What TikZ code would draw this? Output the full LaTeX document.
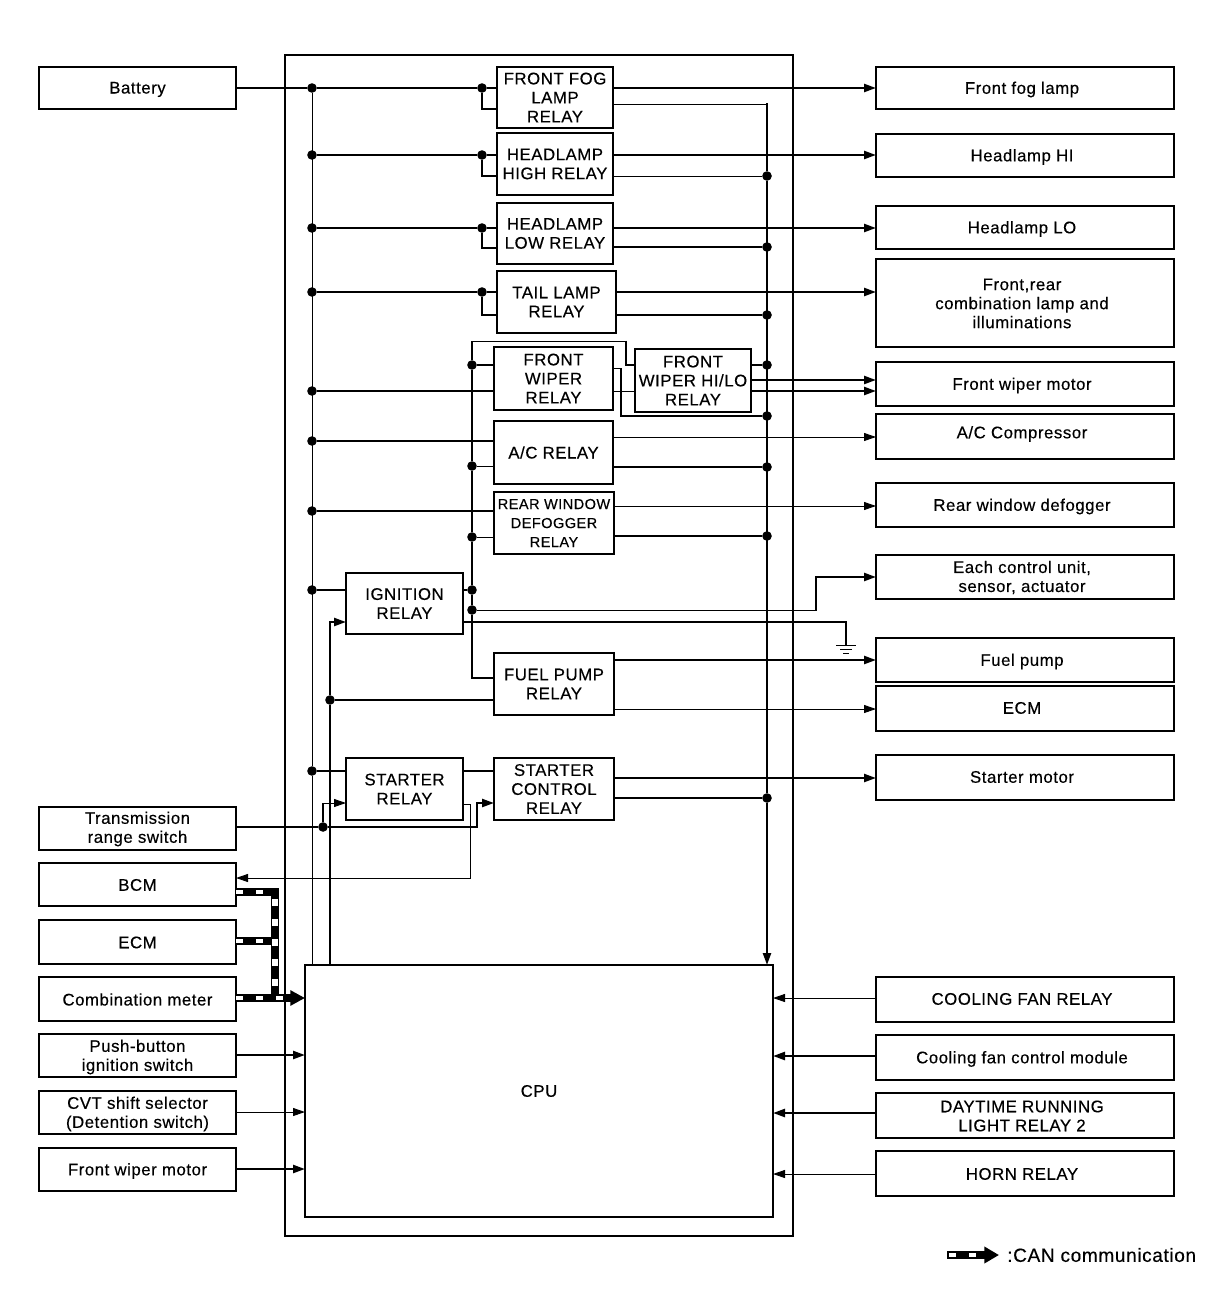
\documentclass[tikz,border=0pt]{standalone}
\usepackage{fontspec}
\setmainfont[LetterSpace=3.2,FakeBold=0.35]{Liberation Sans}
\usetikzlibrary{arrows.meta}
\newcommand{\bx}[7][boxthin]{\node[#1,minimum width={(#5-#3)*0.75pt},minimum height={(#6-#4)*0.75pt}] (#2) at ({(#3+#5)/2},{(#4+#6)/2}) {#7};}
% side boxes: the text sits slightly off the centre of the box
\newcommand{\sbx}[7][lside]{\node[boxthin,minimum width={(#5-#3)*0.75pt},minimum height={(#6-#4)*0.75pt},label={[boxtext,#1]center:{#7}}] (#2) at ({(#3+#5)/2},{(#4+#6)/2}) {};}
\newcommand{\jn}[3]{\node[jdot] (#1) at (#2,#3) {};}
\tikzset{
  x=0.75pt,y=-0.75pt,
  boxtext/.style={inner sep=0pt,outer sep=0pt,align=center,font=\fontsize{12.6pt}{14.25pt}\selectfont},
  lside/.style={yshift=-1.1pt},
  rside/.style={xshift=-2.25pt,yshift=-1.1pt},
  boxthin/.style={boxtext,draw=black,line width=1pt},
  boxthick/.style={boxthin,line width=1.8pt},
  jdot/.style={circle,fill=black,draw=none,minimum size=7.2pt,inner sep=0pt,outer sep=0pt},
  wthin/.style={line width=0.7pt,draw=black},
  wmid/.style={line width=1.1pt,draw=black},
  wthick/.style={line width=1.8pt,draw=black},
  tip/.style={-{Triangle[length=9pt,width=6pt,fill=black]}},
  canbase/.style={line width=6.6pt,draw=black},
  candash/.style={line width=3pt,draw=white,dash pattern=on 5.25pt off 9.75pt},
}
\begin{document}
\begin{tikzpicture}
\useasboundingbox (0,0) rectangle (1216,1298);
% frame and relays
\bx[boxthick]{outer}{285}{55}{793}{1236}{}
\sbx{battery}{39}{67}{236}{109}{Battery}
\bx{fog}{497}{67}{613}{128}{FRONT FOG\\LAMP\\RELAY}
\bx{high}{497}{133}{613}{195}{HEADLAMP\\HIGH RELAY}
\bx{low}{497}{203}{613}{264}{HEADLAMP\\LOW RELAY}
\bx[boxthick]{tail}{497}{271}{616}{333}{TAIL LAMP\\RELAY}
\bx[boxthick]{wiper}{494}{347}{613}{410}{FRONT\\WIPER\\RELAY}
\bx[boxthick]{hilo}{635}{349}{751}{412}{FRONT\\WIPER HI/LO\\RELAY}
\bx[boxthick]{ac}{494}{421}{613}{484}{A/C RELAY}
\bx[boxthick,font=\fontsize{10.9pt}{14.25pt}\selectfont]{rear}{494}{492}{614}{554}{REAR WINDOW\\DEFOGGER\\RELAY}
\bx{ign}{346}{573}{463}{634}{IGNITION\\RELAY}
\bx[boxthick]{fuel}{494}{653}{614}{715}{FUEL PUMP\\RELAY}
\bx[boxthick]{starter}{346}{758}{463}{820}{STARTER\\RELAY}
\bx[boxthick]{sctrl}{494}{758}{614}{820}{STARTER\\CONTROL\\RELAY}
\bx[boxthick]{cpu}{305}{965}{773}{1217}{CPU}
% right column
\sbx[rside]{rfog}{876}{67}{1174}{109}{Front fog lamp}
\sbx[rside]{rhi}{876}{134}{1174}{177}{Headlamp HI}
\sbx[rside]{rlo}{876}{206}{1174}{249}{Headlamp LO}
\sbx[rside,yshift=0.75pt]{rcomb}{876}{259}{1174}{347}{Front,rear\\combination lamp and\\illuminations}
\sbx[rside]{rwiper}{876}{362}{1174}{406}{Front wiper motor}
\sbx[rside,yshift=3pt]{racc}{876}{414}{1174}{459}{A/C Compressor}
\sbx[rside]{rrear}{876}{483}{1174}{527}{Rear window defogger}
\sbx[rside,yshift=0.75pt]{reach}{876}{555}{1174}{599}{Each control unit,\\sensor, actuator}
\sbx[rside]{rfuel}{876}{638}{1174}{682}{Fuel pump}
\sbx[rside,yshift=1.5pt]{recm}{876}{686}{1174}{731}{ECM}
\sbx[rside,yshift=1.5pt]{rstart}{876}{755}{1174}{800}{Starter motor}
\sbx[rside,yshift=1.5pt]{rfan}{876}{977}{1174}{1022}{COOLING FAN RELAY}
\sbx[rside]{rfanc}{876}{1035}{1174}{1080}{Cooling fan control module}
\sbx[rside,yshift=0.75pt]{rday}{876}{1093}{1174}{1138}{DAYTIME RUNNING\\LIGHT RELAY 2}
\sbx[rside,yshift=0.75pt]{rhorn}{876}{1151}{1174}{1196}{HORN RELAY}
% left column
\sbx[lside,yshift=0.75pt]{ltrans}{39}{807}{236}{850}{Transmission\\range switch}
\sbx[lside,yshift=0.75pt]{lbcm}{39}{863}{236}{906}{BCM}
\sbx[lside,yshift=0.75pt]{lecm}{39}{920}{236}{964}{ECM}
\sbx[lside,yshift=0.75pt]{lcomb}{39}{977}{236}{1021}{Combination meter}
\sbx{lpush}{39}{1034}{236}{1077}{Push-button\\ignition switch}
\sbx{lcvt}{39}{1091}{236}{1134}{CVT shift selector\\(Detention switch)}
\sbx{lwiper}{39}{1148}{236}{1191}{Front wiper motor}
% junctions: supply bus x=312
\jn{a1}{312}{88}\jn{a2}{312}{155}\jn{a3}{312}{228}\jn{a4}{312}{292}\jn{a5}{312}{391}\jn{a6}{312}{441}\jn{a7}{312}{511}\jn{a8}{312}{590}\jn{a9}{312}{771}
% relay coil junctions x=482
\jn{b1}{482}{88}\jn{b2}{482}{155}\jn{b3}{482}{228}\jn{b4}{482}{292}
% ignition bus x=472
\jn{c1}{472}{365}\jn{c2}{472}{466}\jn{c3}{472}{537}\jn{c4}{472}{590}\jn{c5}{472}{610}
% return bus x=767
\jn{d1}{767}{176}\jn{d2}{767}{247}\jn{d3}{767}{315}\jn{d4}{767}{365}\jn{d5}{767}{416}\jn{d6}{767}{467}\jn{d7}{767}{536}\jn{d8}{767}{798}
\jn{e1}{330}{700}\jn{e2}{323}{827}
% horizontal feeds
\draw[wthick] (battery.east |- a1) -- (a1) -- (b1) -- (fog.west |- b1);
\draw[wthick] (a2) -- (b2) -- (high.west |- b2);
\draw[wthick] (a3) -- (b3) -- (low.west |- b3);
\draw[wthick] (a4) -- (b4) -- (tail.west |- b4);
\draw[wthick] (b1) |- (fog.west |- 0,109);
\draw[wthick] (b2) |- (high.west |- 0,176);
\draw[wthick] (b3) |- (low.west |- 0,248);
\draw[wthick] (b4) |- (tail.west |- 0,315);
\draw[wthin] (a1) -- (a9);
\draw[wthin] (a9) -- (a9 |- cpu.north);
\draw[wthick] (a5) -- (wiper.west |- a5);
\draw[wthick] (a6) -- (ac.west |- a6);
\draw[wthick] (a7) -- (rear.west |- a7);
\draw[wthick] (a8) -- (ign.west |- a8);
\draw[wmid] (a9) -- (starter.west |- a9);
% outputs
\draw[wthick,tip] (fog.east |- a1) -- (rfog.west |- a1);
\draw[wthick,tip] (high.east |- a2) -- (rhi.west |- a2);
\draw[wthick,tip] (low.east |- a3) -- (rlo.west |- a3);
\draw[wthick,tip] (tail.east |- a4) -- (rcomb.west |- a4);
% return bus
\draw[wthin] (fog.east |- 0,104) -- (766,104);
\draw[wthick,tip] (767,103.5) -- (d1) -- (d8) -- (d8 |- cpu.north);
\draw[wthin] (high.east |- d1) -- (d1);
\draw[wthick] (low.east |- d2) -- (d2);
\draw[wthick] (tail.east |- d3) -- (d3);
\draw[wthick] (hilo.east |- d4) -- (d4);
\draw[wthick] (621,368) -- (621,416) -- (d5);
\draw[wthin] (wiper.east |- 0,368) -- (621,368);
\draw[wthin] (wiper.east |- 0,391) -- (hilo.west |- 0,391);
\draw[wthick] (ac.east |- d6) -- (d6);
\draw[wthick] (rear.east |- d7) -- (d7);
\draw[wthick] (sctrl.east |- d8) -- (d8);
% wiper outputs
\draw[wthick,tip] (hilo.east |- 0,380) -- (rwiper.west |- 0,380);
\draw[wthick,tip] (hilo.east |- 0,391) -- (rwiper.west |- 0,391);
\draw[wthin,tip] (ac.east |- 0,437) -- (racc.west |- 0,437);
\draw[wthin,tip] (rear.east |- 0,506) -- (rrear.west |- 0,506);
% ignition bus
\draw[wthick] (fuel.west |- 0,678) -- (472,678) -- (c5) -- (c4) -- (c3) -- (c2) -- (c1) -- (472,341);
\draw[wthin] (472,341) -- (626,341);
\draw[wthick] (626,340.5) -- (626,365) -- (hilo.west |- 0,365);
\draw[wthick] (c1) -- (wiper.west |- c1);
\draw[wthin] (c2) -- (ac.west |- c2);
\draw[wthin] (c3) -- (rear.west |- c3);
\draw[wthick] (ign.east |- c4) -- (c4);
\draw[wthin] (c5) -- (816,610);
\draw[wthick,tip] (816,610.5) -- (816,577) -- (reach.west |- 0,577);
% ground
\coordinate (gnd) at (846,645);
\draw[wthick] (ign.east |- 0,622) -- (846,622) -- (gnd);
\draw[wthin] (836,645) -- (856,645) (840,649) -- (852,649) (843,653) -- (849,653);
% fuel pump
\draw[wthick,tip] (fuel.east |- 0,660) -- (rfuel.west |- 0,660);
\draw[wthin,tip] (fuel.east |- 0,709) -- (recm.west |- 0,709);
\draw[wthick] (e1) -- (fuel.west |- e1);
\draw[wthick,tip] (e1 |- cpu.north) -- (e1) -- (330,622) -- (ign.west |- 0,622);
% starter
\draw[wthick] (starter.east |- 0,771) -- (sctrl.west |- 0,771);
\draw[wthick,tip] (sctrl.east |- 0,778) -- (rstart.west |- 0,778);
\draw[wthick,tip] (ltrans.east |- 0,827) -- (e2) -- (477,827) -- (477,803) -- (sctrl.west |- 0,803);
\draw[wthick] (e2) -- (323,803);
\draw[wthin,tip] (323,803) -- (starter.west |- 0,803);
\draw[wthin,tip] (starter.east |- 0,804) -- (470,804) -- (470,878) -- (lbcm.east |- 0,878);
% CAN bus
\coordinate (cc) at (275,892);
\coordinate (ct) at (275,998);
\draw[canbase] (lbcm.east |- cc) -- (cc) -- (ct);
\draw[canbase] (lecm.east |- 0,941) -- (275,941);
\draw[canbase,-{Triangle[length=11pt,width=11pt,fill=black]}] (lcomb.east |- ct) -- (cpu.west |- ct);
\draw[candash] (lbcm.east |- cc) -- (270,892);
\draw[candash,line width=4pt] (275,899) -- (275,990);
\draw[candash] (lecm.east |- 0,941) -- (270,941);
\draw[candash] (lcomb.east |- ct) -- (288,998);
% CPU inputs
\draw[wthick,tip] (lpush.east |- 0,1055) -- (cpu.west |- 0,1055);
\draw[wthin,tip] (lcvt.east |- 0,1112) -- (cpu.west |- 0,1112);
\draw[wthick,tip] (lwiper.east |- 0,1169) -- (cpu.west |- 0,1169);
\draw[wthin,tip] (rfan.west |- 0,998) -- (cpu.east |- 0,998);
\draw[wthick,tip] (rfanc.west |- 0,1056) -- (cpu.east |- 0,1056);
\draw[wthick,tip] (rday.west |- 0,1113) -- (cpu.east |- 0,1113);
\draw[wthin,tip] (rhorn.west |- 0,1174) -- (cpu.east |- 0,1174);
% legend
\node[anchor=west,inner sep=0pt,font=\fontsize{14.3pt}{16pt}\selectfont] (legend) at (1007,1255) {:CAN communication};
\coordinate (la) at (947,1255);
\coordinate (lb) at (999,1255);
\draw[line width=6pt,-{Triangle[length=11pt,width=12pt,fill=black]}] (la) -- (lb);
\draw[line width=2.6pt,draw=white,dash pattern=on 5.25pt off 9.75pt,dash phase=-1.5pt] (la) -- (985,1255);
\end{tikzpicture}
\end{document}
